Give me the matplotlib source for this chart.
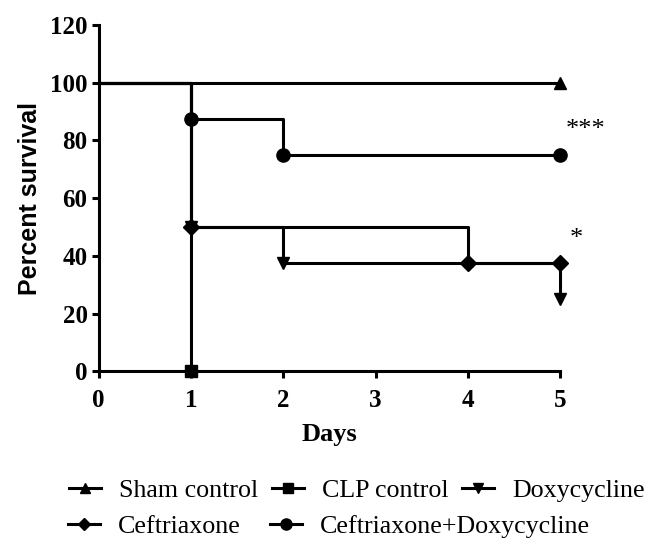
import matplotlib
matplotlib.use('Agg')
import matplotlib.pyplot as plt
from matplotlib.lines import Line2D

# survival data (days, percent)
sham_t = [0, 5]
sham_s = [100, 100]
clp_t = [0, 1]
clp_s = [100, 0]
doxy_t = [0, 1, 2, 5]
doxy_s = [100, 50, 37.5, 25]
ceft_t = [0, 1, 4, 5]
ceft_s = [100, 50, 37.5, 37.5]
combo_t = [0, 1, 2, 5]
combo_s = [100, 87.5, 75, 75]

names = ['Sham control', 'CLP control', 'Doxycycline', 'Ceftriaxone', 'Ceftriaxone+Doxycycline']
markers = ['^', 's', 'v', 'D', 'o']
series = [(sham_t, sham_s), (clp_t, clp_s), (doxy_t, doxy_s), (ceft_t, ceft_s), (combo_t, combo_s)]
msizes = [9, 8.5, 9, 8, 9.5]

xticks = [0, 1, 2, 3, 4, 5]
yticks = [0, 20, 40, 60, 80, 100, 120]

serif = 'Liberation Serif'

fig = plt.figure(figsize=(6.49, 5.38), dpi=100)
ax = fig.add_axes([0.152, 0.31, 0.711, 0.6435])

for (t, s), m, ms in zip(series, markers, msizes):
    ax.step(t, s, where='post', color='black', lw=2.2, clip_on=False, zorder=3)
    ax.plot(t[1:], s[1:], linestyle='none', marker=m, color='black', ms=ms, clip_on=False, zorder=4)

# significance marks
ax.text(5.06, 83.5, '***', fontsize=19, family=serif, ha='left', va='center')
ax.text(5.1, 46, '*', fontsize=19, family=serif, ha='left', va='center')

ax.set_xlim(0, 5)
ax.set_ylim(0, 120)
ax.set_xticks(xticks)
ax.set_yticks(yticks)
ax.spines['top'].set_visible(False)
ax.spines['right'].set_visible(False)
ax.spines['left'].set_linewidth(2.2)
ax.spines['bottom'].set_linewidth(2.2)
ax.tick_params(direction='out', length=5, width=2.2)
ax.tick_params(axis='x', pad=8)
ax.tick_params(axis='y', pad=3)
for lab in ax.get_xticklabels() + ax.get_yticklabels():
    lab.set_family(serif)
    lab.set_fontweight('bold')
    lab.set_fontsize(18)

ax.set_xlabel('Days', family=serif, fontweight='bold', fontsize=19, labelpad=8)
ax.set_ylabel('Percent survival', family='Liberation Sans', fontweight='bold', fontsize=18, labelpad=6)

handles = [Line2D([], [], color='black', lw=2.2, marker=m, ms=ms - 1.5) for m, ms in zip(markers, msizes)]
row1 = [0, 1, 2]
row2 = [3, 4]
fig.legend([handles[i] for i in row1], [names[i] for i in row1], ncol=3,
           loc='center', bbox_to_anchor=(0.55, 0.089), frameon=False,
           prop={'family': serif, 'size': 18.7}, handlelength=1.25, handletextpad=0.7,
           columnspacing=0.5)
fig.legend([handles[i] for i in row2], [names[i] for i in row2], ncol=2,
           loc='center', bbox_to_anchor=(0.507, 0.022), frameon=False,
           prop={'family': serif, 'size': 18.7}, handlelength=1.25, handletextpad=0.7,
           columnspacing=1.1)

fig.savefig('out.png', dpi=100)
